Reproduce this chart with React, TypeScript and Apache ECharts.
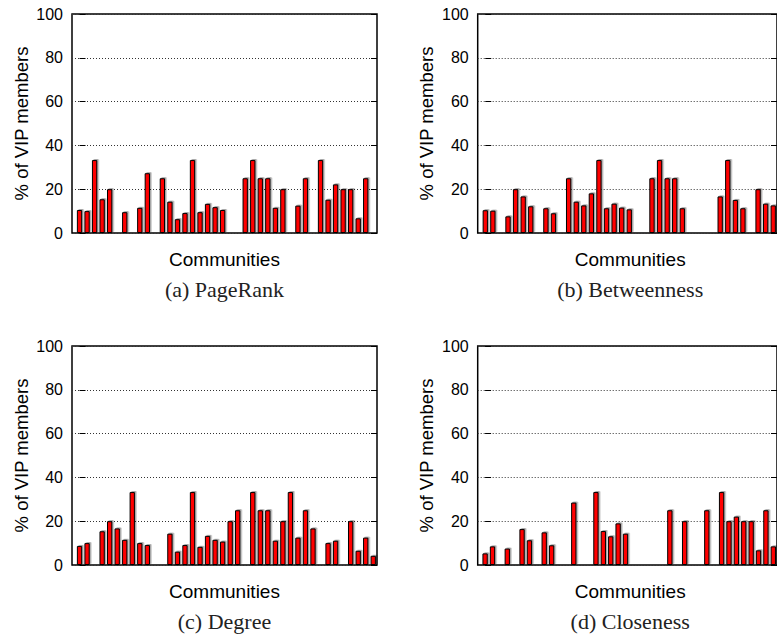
import React, { useEffect, useRef } from "react";
import * as echarts from "echarts";

// values per community slot (0 = no bar)
const pageRank = [10.5, 10, 33.3, 15.4, 20, 0, 9.5, 0, 11.5, 27.3, 0, 25, 14.3, 6.3, 9.1, 33.3, 9.5, 13.3, 11.8, 10.5, 0, 0, 25, 33.3, 25, 25, 11.5, 20, 0, 12.5, 25, 0, 33.3, 15.2, 22.2, 20, 20, 6.7, 25, 0];
const betweenness = [10.4, 10.2, 0, 7.6, 20, 16.7, 12.2, 0, 11.3, 9.0, 0, 25, 14.3, 12.6, 18.1, 33.3, 11.3, 13.4, 11.6, 10.8, 0, 0, 25, 33.3, 25, 25, 11.3, 0, 0, 0, 0, 16.7, 33.3, 15.1, 11.3, 0, 20, 13.4, 12.6];
const degree = [8.7, 10, 0, 15.4, 20, 16.7, 11.5, 33.3, 10, 9.1, 0, 0, 14.3, 6.1, 9.1, 33.3, 8.3, 13.3, 11.5, 10.7, 20, 25, 0, 33.3, 25, 25, 11.1, 20, 33.3, 12.5, 25, 16.7, 0, 10, 11.1, 0, 20, 6.5, 12.5, 4.2];
const closeness = [5.3, 8.5, 0, 7.5, 0, 16.4, 11.3, 0, 14.9, 9.0, 0, 0, 28.5, 0, 0, 33.3, 15.5, 13.1, 19, 14.3, 0, 0, 0, 0, 0, 25, 0, 20, 0, 0, 25, 0, 33.3, 20, 22.1, 20, 20, 6.7, 25, 8.5];

const panelTitles = ["(a) PageRank", "(b) Betweenness", "(c) Degree", "(d) Closeness"];
const yName = "% of VIP members";
const xName = "Communities";

export default function App() {
  const ref = useRef<HTMLDivElement>(null);
  useEffect(() => {
    const chart = echarts.init(ref.current!, null, { renderer: "svg" });
    const W = 305;
    const H = 219;
    const panels = [
      { left: 72, top: 14, data: pageRank },
      { left: 477.7, top: 14, data: betweenness },
      { left: 72, top: 346, data: degree },
      { left: 477.7, top: 346, data: closeness },
    ];
    const grid: any[] = [];
    const xAxis: any[] = [];
    const yAxis: any[] = [];
    const series: any[] = [];
    const graphic: any[] = [];
    panels.forEach((p, i) => {
      grid.push({
        left: p.left,
        top: p.top,
        width: W,
        height: H,
        show: true,
        borderColor: "#000",
        borderWidth: 1.5,
        backgroundColor: "transparent",
      });
      xAxis.push({
        type: "value",
        gridIndex: i,
        min: -1,
        max: p.data.length - 0.5,
        axisLine: { show: false },
        axisTick: { show: false },
        axisLabel: { show: false },
        splitLine: { show: false },
      });
      yAxis.push({
        type: "value",
        gridIndex: i,
        min: 0,
        max: 100,
        interval: 20,
        position: "left",
        axisLine: { show: false },
        axisTick: { show: true, inside: true, length: 6, lineStyle: { color: "#000", width: 1 } },
        axisLabel: { show: true, fontSize: 16, color: "#000", fontFamily: "Liberation Sans", margin: 9 },
        splitLine: { show: true, lineStyle: { color: "#333", width: 1, type: [1, 2] } },
      });
      yAxis.push({
        type: "value",
        gridIndex: i,
        min: 0,
        max: 100,
        interval: 20,
        position: "right",
        axisLine: { show: false },
        axisTick: { show: true, inside: true, length: 6, lineStyle: { color: "#000", width: 1 } },
        axisLabel: { show: false },
        splitLine: { show: false },
      });
      const pts = p.data
        .map((v, k) => [k, v])
        .filter((d) => d[1] > 0);
      series.push({
        type: "bar",
        xAxisIndex: i,
        yAxisIndex: i * 2,
        data: pts,
        barWidth: 5.3,
        itemStyle: {
          color: "#ff0000",
          borderColor: "#000",
          borderWidth: 1,
          shadowColor: "rgba(0,0,0,0.35)",
          shadowOffsetX: 1.5,
          shadowOffsetY: -1,
          shadowBlur: 1,
        },
        z: 3,
      });
      const cx = p.left + W / 2;
      graphic.push({
        type: "text",
        x: p.left - 51,
        y: p.top + H / 2,
        rotation: Math.PI / 2,
        style: {
          text: yName,
          fontSize: 18.5,
          fontFamily: "Liberation Sans",
          fill: "#000",
          textAlign: "center",
          textVerticalAlign: "middle",
        },
      });
      graphic.push({
        type: "text",
        x: cx,
        y: p.top + H + 26,
        style: {
          text: xName,
          fontSize: 19,
          fontFamily: "Liberation Sans",
          fill: "#000",
          textAlign: "center",
          textVerticalAlign: "middle",
        },
      });
      graphic.push({
        type: "text",
        x: cx,
        y: p.top + H + 56,
        style: {
          text: panelTitles[i],
          fontSize: 22,
          fontFamily: "Liberation Serif",
          fill: "#222",
          textAlign: "center",
          textVerticalAlign: "middle",
        },
      });
    });
    chart.setOption({
      animation: false,
      backgroundColor: "#fff",
      grid,
      xAxis,
      yAxis,
      series,
      graphic,
    });
    return () => chart.dispose();
  }, []);
  return <div ref={ref} style={{ position: "absolute", left: 0, top: 0, width: 777, height: 635 }} />;
}
